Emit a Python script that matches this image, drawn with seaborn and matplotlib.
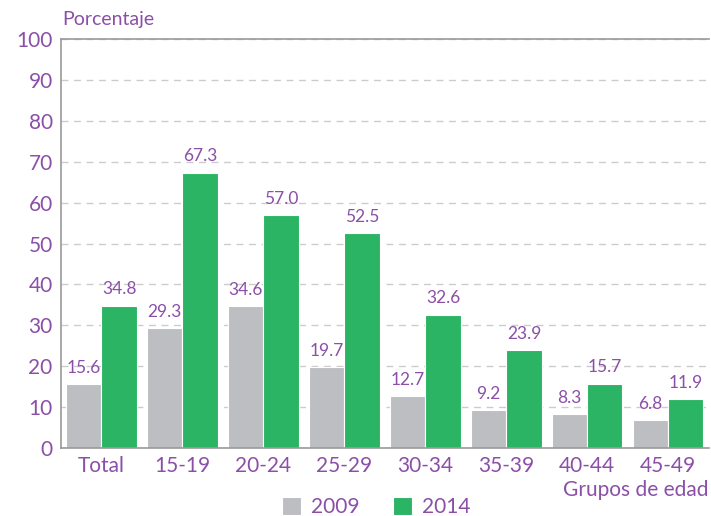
import pandas as pd
import matplotlib.pyplot as plt
import seaborn as sns

# datos
grupos = ['Total', '15-19', '20-24', '25-29', '30-34', '35-39', '40-44', '45-49']
val_2009 = [15.6, 29.3, 34.6, 19.7, 12.7, 9.2, 8.3, 6.8]
val_2014 = [34.8, 67.3, 57.0, 52.5, 32.6, 23.9, 15.7, 11.9]
anios = ['2009', '2014']

df = pd.DataFrame({'grupo': grupos * 2,
                   'anio': [anios[0]] * len(grupos) + [anios[1]] * len(grupos),
                   'valor': val_2009 + val_2014})

morado = '#8B4FA8'
sns.set_style('white')
plt.rcParams['font.family'] = ['Lato', 'DejaVu Sans']

fig = plt.figure(figsize=(7.11, 5.16), dpi=100)
ax = fig.add_axes([0.0858, 0.1318, 0.911, 0.7926])

sns.barplot(data=df, x='grupo', y='valor', hue='anio', order=grupos,
            palette={'2009': '#BDBEC1', '2014': '#2BB463'}, saturation=1,
            width=0.87, edgecolor='white', linewidth=0.8, ax=ax)

for cont in ax.containers:
    ax.bar_label(cont, fmt='%.1f', padding=6, color=morado, fontsize=12.5)

ax.set_ylim(0, 100)
ax.set_xlim(-0.5, len(grupos) - 0.5)
ax.set_yticks(range(0, 101, 10))
ax.yaxis.grid(True, linestyle=(0, (5, 4)), color='#CCCCCC', linewidth=1)
ax.set_axisbelow(True)
ax.tick_params(axis='both', colors=morado, labelsize=15, length=0, pad=6)
for s in ax.spines.values():
    s.set_color('#999999')
    s.set_linewidth(1.2)
ax.spines['right'].set_visible(False)

ax.set_xlabel('')
ax.set_ylabel('')
fig.text(0.087, 0.962, 'Porcentaje', color=morado, fontsize=14, ha='left', va='center')
fig.text(0.997, 0.05, 'Grupos de edad', color=morado, fontsize=15, ha='right', va='center')

ax.legend(loc='center', bbox_to_anchor=(0.487, -0.145), ncol=2, frameon=False,
          fontsize=15, labelcolor=morado, handlelength=0.9, handleheight=0.9,
          columnspacing=1.6, handletextpad=0.5)

plt.savefig('out.png', dpi=100)
